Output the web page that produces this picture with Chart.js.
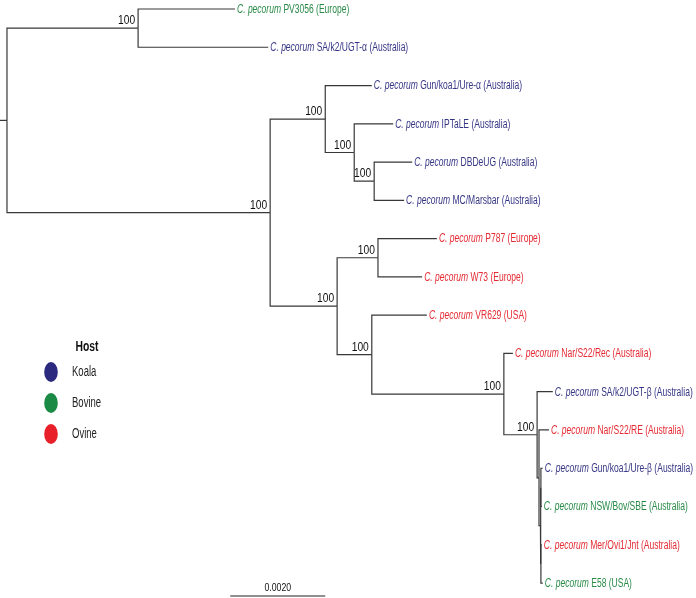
<!DOCTYPE html>
<html>
<head>
<meta charset="utf-8">
<script src="https://cdn.jsdelivr.net/npm/chart.js@4.4.1/dist/chart.umd.min.js"></script>
<style>
  html, body { margin: 0; padding: 0; background: #fff; }
  canvas { display: block; }
</style>
</head>
<body>
<canvas id="treeChart" width="696" height="598"></canvas>
<script>
// tips, top to bottom
const tipNames = ["PV3056", "SA/k2/UGT-α", "Gun/koa1/Ure-α", "IPTaLE", "DBDeUG", "MC/Marsbar",
    "P787", "W73", "VR629", "Nar/S22/Rec", "SA/k2/UGT-β", "Nar/S22/RE",
    "Gun/koa1/Ure-β", "NSW/Bov/SBE", "Mer/Ovi1/Jnt", "E58"];
const tipOrigins = ["Europe", "Australia", "Australia", "Australia", "Australia", "Australia",
    "Europe", "Europe", "USA", "Australia", "Australia", "Australia",
    "Australia", "Australia", "Australia", "USA"];
const tipHosts = [1, 0, 0, 0, 0, 0, 2, 2, 2, 2, 0, 2, 0, 1, 2, 1];
// distance from root (substitutions/site)
const tipDepths = [0.00480, 0.00550, 0.00768, 0.00813, 0.00853, 0.00836,
    0.00905, 0.00874, 0.00884, 0.01065, 0.01149, 0.01141,
    0.01128, 0.01126, 0.01126, 0.01128];

// internal nodes, ids start after the tips (16 = root)
const nodeChildren = [[17, 18], [0, 1], [19, 22], [2, 20], [3, 21], [4, 5],
    [23, 24], [6, 7], [8, 25], [9, 26], [10, 27], [11, 28], [29, 30], [12, 13], [14, 15]];
const nodeDepths = [0, 0.00276, 0.00554, 0.00670, 0.00731, 0.00773,
    0.00695, 0.00781, 0.00768, 0.01046, 0.01116, 0.01120, 0.01123, 0.01124, 0.01124];
const nodeSupport = [null, 100, 100, 100, 100, 100, 100, 100, 100, 100, 100, null, null, null, null];

const hostNames = ["Koala", "Bovine", "Ovine"];
const hostColors = ["#2b2a7f", "#1b8a45", "#e8202a"];
const tipColors = ["#353585", "#2a8a48", "#e42a32"];
const scaleBar = [0.0047, 0.0067];
const scaleBarLabel = "0.0020";

const nTips = tipNames.length;
const pos = {};
function place(id) {
    if (id < nTips) {
        pos[id] = { x: tipDepths[id], y: id };
        return pos[id];
    }
    const k = id - nTips;
    const kids = nodeChildren[k].map(place);
    pos[id] = { x: nodeDepths[k], y: (kids[0].y + kids[kids.length - 1].y) / 2 };
    return pos[id];
}
place(nTips);

const xMin = -0.000147, xMax = 0.014505;
const lineStyle = { showLine: true, borderColor: "#383838", borderWidth: 1.2, pointRadius: 0, fill: false, borderJoinStyle: "miter" };

const datasets = [];
// little stub left of the root
datasets.push({ ...lineStyle, data: [{ x: xMin, y: pos[nTips].y }, { x: 0, y: pos[nTips].y }] });
nodeChildren.forEach((kids, k) => {
    const p = pos[nTips + k];
    kids.forEach((c) => {
        const q = pos[c];
        datasets.push({ ...lineStyle, data: [{ x: p.x, y: p.y }, { x: p.x, y: q.y }, { x: q.x, y: q.y }] });
    });
});

const labelFont = "'Liberation Sans', Arial, sans-serif";

// the figure uses a condensed face, so squeeze the text horizontally
function squeezed(ctx, text, x, y, sx) {
    ctx.save();
    ctx.translate(x, y);
    ctx.scale(sx, 1);
    ctx.fillText(text, 0, 0);
    ctx.restore();
    return ctx.measureText(text).width * sx;
}

const treeLabels = {
    id: "treeLabels",
    afterDatasetsDraw(chart) {
        const ctx = chart.ctx;
        const xs = chart.scales.x, ys = chart.scales.y;
        ctx.save();
        ctx.textBaseline = "middle";
        ctx.textAlign = "left";
        // tip labels
        tipNames.forEach((name, i) => {
            const px = xs.getPixelForValue(tipDepths[i]) + 2;
            const py = ys.getPixelForValue(i) + 0.5;
            ctx.fillStyle = tipColors[tipHosts[i]];
            ctx.font = "italic 12px " + labelFont;
            const w = squeezed(ctx, "C. pecorum", px, py, 0.71);
            ctx.font = "12px " + labelFont;
            squeezed(ctx, " " + name + " (" + tipOrigins[i] + ")", px + w, py, 0.71);
        });
        // bootstrap values
        ctx.fillStyle = "#111";
        ctx.font = "12.5px " + labelFont;
        ctx.textAlign = "right";
        ctx.textBaseline = "alphabetic";
        nodeSupport.forEach((s, k) => {
            if (s === null) return;
            const p = pos[nTips + k];
            squeezed(ctx, String(s), xs.getPixelForValue(p.x) - 3, ys.getPixelForValue(p.y) - 4, 0.82);
        });
        // scale bar
        const sy = 596;
        ctx.strokeStyle = "#222";
        ctx.lineWidth = 1.2;
        ctx.beginPath();
        ctx.moveTo(xs.getPixelForValue(scaleBar[0]), sy);
        ctx.lineTo(xs.getPixelForValue(scaleBar[1]), sy);
        ctx.stroke();
        ctx.textAlign = "center";
        ctx.font = "11.5px " + labelFont;
        squeezed(ctx, scaleBarLabel, xs.getPixelForValue((scaleBar[0] + scaleBar[1]) / 2), sy - 5, 0.76);
        // host legend
        ctx.font = "bold 14px " + labelFont;
        squeezed(ctx, "Host", 87, 351, 0.74);
        ctx.textAlign = "left";
        ctx.textBaseline = "middle";
        hostNames.forEach((h, i) => {
            const cy = 372 + i * 31;
            ctx.fillStyle = hostColors[i];
            ctx.beginPath();
            ctx.ellipse(51, cy, 6.8, 10, 0, 0, Math.PI * 2);
            ctx.fill();
            ctx.fillStyle = "#222";
            ctx.font = "14px " + labelFont;
            squeezed(ctx, h, 72, cy, 0.68);
        });
        ctx.restore();
    }
};

new Chart(document.getElementById("treeChart").getContext("2d"), {
    type: "scatter",
    data: { datasets: datasets },
    options: {
        responsive: false,
        animation: false,
        layout: { padding: 0 },
        plugins: { legend: { display: false }, tooltip: { enabled: false } },
        scales: {
            x: { type: "linear", min: xMin, max: xMax, display: false },
            y: { type: "linear", min: -0.2352, max: 15.3906, reverse: true, display: false }
        }
    },
    plugins: [treeLabels]
});
</script>
</body>
</html>
